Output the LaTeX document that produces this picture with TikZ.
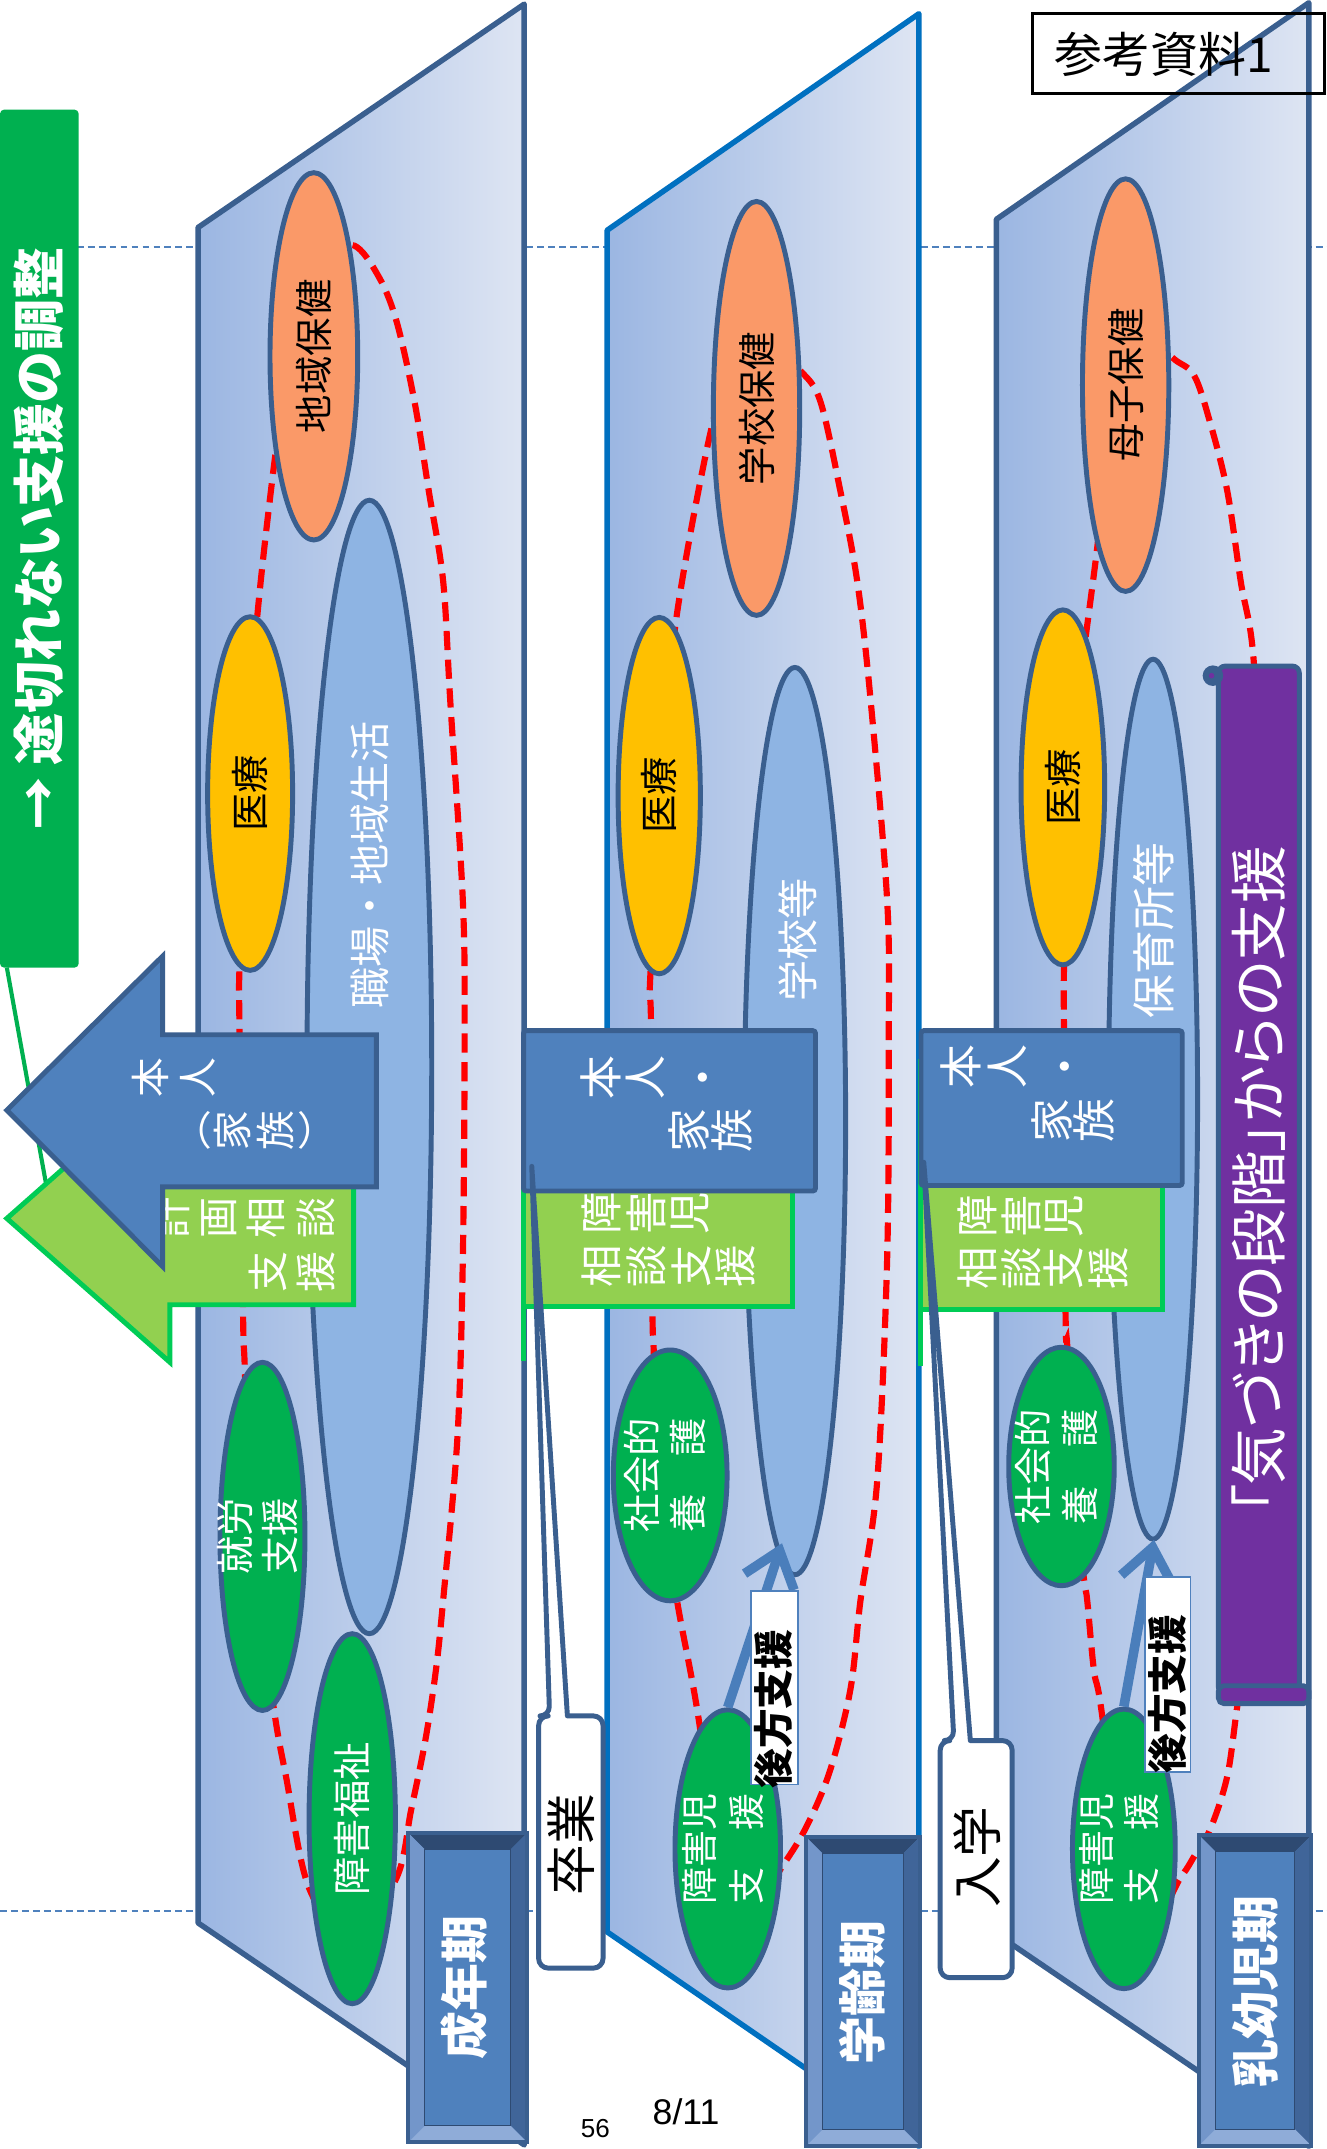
\documentclass[tikz,border=0pt]{standalone}
\usepackage{fontspec}
\usepackage{graphicx}
\setmainfont{Liberation Sans}
\newfontfamily\jp{Noto Sans CJK JP}
\newfontfamily\jpp[RawFeature=+palt]{Noto Sans CJK JP}
\usetikzlibrary{shapes.geometric,arrows.meta}
\definecolor{panelL}{RGB}{155,182,226}
\definecolor{panelR}{RGB}{222,229,243}
\definecolor{edgeD}{RGB}{58,95,143}
\definecolor{edgeM}{RGB}{0,112,192}
\definecolor{orangeE}{RGB}{250,153,104}
\definecolor{yellowE}{RGB}{255,192,0}
\definecolor{greenE}{RGB}{0,176,80}
\definecolor{blueE}{RGB}{142,180,227}
\definecolor{boxB}{RGB}{79,129,189}
\definecolor{boxB2}{RGB}{74,126,187}
\definecolor{lgreen}{RGB}{146,208,80}
\definecolor{agreen}{RGB}{0,204,85}
\definecolor{purp}{RGB}{112,48,160}
\definecolor{dashblue}{RGB}{79,129,189}
\definecolor{bvT}{RGB}{46,74,114}
\definecolor{bvL}{RGB}{115,150,202}
\definecolor{bvR}{RGB}{64,101,153}
\definecolor{bvB}{RGB}{143,172,216}
\newcommand\bevbox[4]{%
  \fill[boxB] (#1,#2) rectangle (#3,#4);
  \fill[bvT] (#1,#2) -- (#3,#2) -- (#3-12,#2+12) -- (#1+12,#2+12) -- cycle;
  \fill[bvL] (#1,#2) -- (#1+12,#2+12) -- (#1+12,#4-12) -- (#1,#4) -- cycle;
  \fill[bvR] (#3,#2) -- (#3-12,#2+12) -- (#3-12,#4-12) -- (#3,#4) -- cycle;
  \fill[bvB] (#1,#4) -- (#1+12,#4-12) -- (#3-12,#4-12) -- (#3,#4) -- cycle;
  \draw[edgeD, line width=3pt] (#1,#2) rectangle (#3,#4);
  \draw[bvT, line width=0.8pt] (#1+12,#2+12) rectangle (#3-12,#4-12);}
\begin{document}
\begin{tikzpicture}[x=1pt,y=-1pt,
  ell/.style={ellipse, draw=edgeD, line width=3.6pt, inner sep=0pt},
  etxt/.style={inner sep=0pt, font=\jp\fontsize{28}{31}\selectfont},
  vch/.style={inner sep=0pt, rotate=90, text=white, font=\jp\fontsize{31}{31}\selectfont},
  pch/.style={inner sep=0pt, text=white, font=\jpp\fontsize{29}{29}\selectfont},
  rlab/.style={inner sep=0pt, rotate=90, font=\jp\fontsize{30}{30}\selectfont},
  panel/.style={line width=4pt, line join=round, left color=panelL, right color=panelR},
  reddash/.style={draw=red, line width=4.5pt, dash pattern=on 14pt off 7pt},
  bbox/.style={draw=edgeD, fill=boxB, line width=3.6pt, rounded corners=2pt, inner sep=0pt},
  gbox/.style={draw=agreen, fill=lgreen, line width=3.6pt, inner sep=0pt},
  calloutbox/.style={draw=edgeD, fill=white, line width=3.6pt, line join=round},
  perlab/.style={inner sep=0pt, rotate=90, text=white, font=\jp\bfseries\fontsize{35}{35}\selectfont},
  backarr/.style={draw=boxB2, line width=7pt, -{Straight Barb[length=24pt,width=38pt]}},
  hlab/.style={draw=boxB, fill=white, line width=1.4pt, inner sep=0pt},
  dashline/.style={draw=dashblue, line width=1.4pt, dash pattern=on 5pt off 3pt}
]
\useasboundingbox (0,0) rectangle (968,1568);
\fill[white] (0,0) rectangle (968,1568);

% dashed guide lines
\draw[dashline] (0,180) -- (968,180);
\draw[dashline] (0,1394) -- (968,1394);

% connector from title bar
\coordinate (gl1) at (5,706);
\coordinate (gl2) at (34,866);
\draw[greenE, line width=3pt] (gl1) -- (gl2);

% title bar
\node[fill=greenE, rounded corners=3pt, minimum width=57.4pt, minimum height=626pt, inner sep=0pt,
      text=white, font=\jpp\bfseries\fontsize{38}{38}\selectfont] (title) at (28.7,393)
      {\rotatebox{90}{→ 途切れない支援の調整}};

% panels
\draw[panel, draw=edgeD] (144.5,166) -- (382.5,3) -- (382.5,1565) -- (144.5,1403) -- cycle;
\draw[panel, draw=edgeM] (443,168) -- (670.5,10) -- (670.5,1566) -- (443,1409.6) -- cycle;
\draw[panel, draw=edgeD] (727,160) -- (955,2) -- (955,1566) -- (727,1411) -- cycle;

% red dashed loops
\draw[reddash] plot[smooth cycle, tension=0.55] coordinates {
 (235,188) (258,179) (276.4,202) (289.4,234.7) (302.5,293.4) (312.9,358.5) (323.3,423.7)
 (328.5,511) (337.7,657) (339,755) (337.7,918) (333.8,1048) (323.3,1168) (318,1219)
 (310.3,1270) (299.9,1321) (289.4,1370) (257,1415) (225.5,1377.6) (208.6,1295.8)
 (199.5,1244.7) (183,1121) (178.6,997.6) (177.3,957) (174.7,748) (174.7,706) (178,580)
 (187.7,449.8) (200.8,332.5) (212,255)};
\draw[reddash] plot[smooth cycle, tension=0.55] coordinates {
 (560,250) (584,270.5) (598.6,293) (613.2,358.5) (625.4,423.7) (635,508.5) (647.3,657)
 (648.5,755) (647.3,918) (640,1081) (627.8,1168) (620.6,1232) (606,1290.7) (589,1331.6)
 (570.6,1362) (530,1420) (511,1262.6) (494,1168) (480,1076) (477,986) (476,950) (475,750)
 (474.5,712) (483,580) (492.8,456) (518.3,316) (535,270)};
\draw[reddash] plot[smooth cycle, tension=0.55] coordinates {
 (830,235) (855.3,260.8) (871.2,273.8) (883.3,309.6) (895.5,358.5) (905.2,423.7) (915,485.6)
 (921,650) (922,850) (918,1050) (910,1200) (902.8,1244.7) (895.5,1295.8) (883.3,1334)
 (871.2,1354.6) (861.4,1370) (825,1420) (804.2,1252) (798.2,1219) (793.3,1168) (790.9,1152)
 (780,1070) (778.7,983) (777.5,960) (776.3,751.5) (776.3,705.9) (778,575) (792,466)
 (800.6,399.3) (812,300)};

% ===== left panel: adult period =====
\node[ell, fill=blueE, minimum width=91pt, minimum height=827pt] (shokuba) at (269.5,778.5) {};
\node[rlab, text=white] (shokubaT) at (270,631) {職場・地域生活};
\node[ell, fill=orangeE, minimum width=64pt, minimum height=268pt] (chiiki) at (229,260) {};
\node[ell, fill=yellowE, minimum width=62pt, minimum height=258pt] (iryo1) at (182.5,579) {};
\node[ell, fill=greenE, minimum width=62pt, minimum height=254pt] (shuro) at (191.5,1121) {};
\node[ell, fill=greenE, minimum width=63pt, minimum height=270pt] (fukushi) at (257,1327) {};
\node[etxt] (chiikiT) at (chiiki) {\rotatebox{90}{地域保健}};
\node[etxt] (iryo1T) at (iryo1) {\rotatebox{90}{医療}};
\node[etxt, text=white] (shuroT) at (shuro) {\rotatebox{90}{\begin{tabular}{@{}c@{}}就労\\支援\end{tabular}}};
\node[etxt, text=white] (fukushiT) at (fukushi) {\rotatebox{90}{障害福祉}};

% arrows (planning consultation / person-family)
\draw[draw=agreen, fill=lgreen, line width=3.6pt, line join=miter]
  (5,889) -- (124,784) -- (124,826) -- (258,826) -- (258,952) -- (124,952) -- (124,994) -- cycle;
\foreach \c/\x/\y [count=\i] in {計/124.7/889, 画/159.7/889, 相/194.3/889, 談/230.8/889, 支/195.6/928.4, 援/230.8/928.4}
  \node[vch, font=\jp\fontsize{30}{30}\selectfont] (kk\i) at (\x,\y) {\c};
\draw[draw=edgeD, fill=boxB, line width=3.6pt, line join=miter]
  (5,810) -- (118.6,697.7) -- (118.6,755) -- (274.6,755) -- (274.6,866) -- (118.6,866) -- (118.6,924) -- cycle;
\foreach \c/\x/\y [count=\i] in {本/109.5/786, 人/144.7/786, 家/169.5/825, 族/201/825}
  \node[vch, font=\jp\fontsize{29}{29}\selectfont] (ka\i) at (\x,\y) {\c};
\node[pch] (kap1) at (146.6,825) {（};
\node[pch] (kap2) at (225.5,825) {）};

% ===== middle panel: school age =====
\node[ell, fill=blueE, minimum width=74pt, minimum height=662pt] (gakkoto) at (580,818) {};
\node[rlab, text=white] (gakkotoT) at (582,686) {学校等};
\node[ell, fill=orangeE, minimum width=63pt, minimum height=302pt] (gakko) at (552,298) {};
\node[ell, fill=yellowE, minimum width=60pt, minimum height=260pt] (iryo2) at (481,580.5) {};
\node[ell, fill=greenE, minimum width=83pt, minimum height=183pt] (shakai2) at (489,1076.5) {};
\node[ell, fill=greenE, minimum width=77pt, minimum height=203pt] (shien2) at (531,1349) {};
\node[etxt] (gakkoT) at (gakko) {\rotatebox{90}{学校保健}};
\node[etxt] (iryo2T) at (iryo2) {\rotatebox{90}{医療}};
\node[etxt, text=white, font=\jp\fontsize{28}{34}\selectfont] (shakai2T) at (shakai2)
  {\rotatebox{90}{\begin{tabular}{@{}c@{}}社会的\\養　護\end{tabular}}};
\node[etxt, text=white, font=\jp\fontsize{27}{34}\selectfont] (shien2T) at (shien2)
  {\rotatebox{90}{\begin{tabular}{@{}c@{}}障害児\\支　援\end{tabular}}};

% ===== right panel: infancy =====
\node[ell, fill=blueE, minimum width=65pt, minimum height=642pt] (hoiku) at (841.3,802) {};
\node[rlab, text=white, font=\jp\fontsize{32}{32}\selectfont] (hoikuT) at (842,679) {保育所等};
\node[ell, fill=orangeE, minimum width=63pt, minimum height=301pt] (boshi) at (821.3,281) {};
\node[ell, fill=yellowE, minimum width=61pt, minimum height=259pt] (iryo3) at (775.5,574.5) {};
\node[ell, fill=greenE, minimum width=77pt, minimum height=174pt] (shakai3) at (774.5,1070) {};
\node[ell, fill=greenE, minimum width=75pt, minimum height=204pt] (shien3) at (820,1349) {};
\node[etxt] (boshiT) at (boshi) {\rotatebox{90}{母子保健}};
\node[etxt] (iryo3T) at (iryo3) {\rotatebox{90}{医療}};
\node[etxt, text=white, font=\jp\fontsize{28}{34}\selectfont] (shakai3T) at (shakai3)
  {\rotatebox{90}{\begin{tabular}{@{}c@{}}社会的\\養　護\end{tabular}}};
\node[etxt, text=white, font=\jp\fontsize{27}{33}\selectfont] (shien3T) at (shien3)
  {\rotatebox{90}{\begin{tabular}{@{}c@{}}障害児\\支　援\end{tabular}}};

% green consultation boxes and blue person boxes
\draw[agreen, line width=4pt] (382,773) -- (382,993);
\draw[agreen, line width=4pt] (671.5,773) -- (671.5,997);
\node[gbox, minimum width=196pt, minimum height=153.6pt] (sodan2) at (480,876.8) {};
\node[gbox, minimum width=176.5pt, minimum height=155.2pt] (sodan3) at (760.25,877.6) {};
\foreach \c/\x/\y [count=\i] in {障/438.6/885, 害/471.5/885, 児/503.7/885, 相/438.6/924, 談/471.5/924, 支/504.4/924, 援/536.6/924}
  \node[vch] (sm\i) at (\x,\y) {\c};
\foreach \c/\x/\y [count=\i] in {障/713/887.6, 害/745.2/887.6, 児/776.2/887.6, 相/713/925, 談/745.2/925, 支/776.2/925, 援/809/925}
  \node[vch] (sr\i) at (\x,\y) {\c};
\node[bbox, minimum width=213pt, minimum height=117pt] (honnin2) at (488.5,810.5) {};
\node[bbox, minimum width=190.6pt, minimum height=113pt] (honnin3) at (767.3,808.5) {};
\foreach \c/\x/\y [count=\i] in {本/438.6/786.5, 人/471/786.5, ・/517/786.5, 家/502.5/824.8, 族/533.7/824.8}
  \node[vch, font=\jp\fontsize{32}{32}\selectfont] (hm\i) at (\x,\y) {\c};
\foreach \c/\x/\y [count=\i] in {本/701.4/778.4, 人/735/778.4, ・/781/778.4, 家/767.7/817.5, 族/798.2/817.5}
  \node[vch, font=\jp\fontsize{32}{32}\selectfont] (hr\i) at (\x,\y) {\c};

% callouts: graduation / school entry
\draw[calloutbox] (388,851) -- (414,1252) [rounded corners=7pt] -- (440,1252) -- (440,1436) -- (393,1436) -- (393,1252) -- (401,1252) [sharp corners] -- cycle;
\node[rlab, font=\jp\fontsize{37}{37}\selectfont] (sotsugyo) at (416.7,1346) {卒業};
\draw[calloutbox] (674,848) -- (708,1270) [rounded corners=7pt] -- (738.5,1270) -- (738.5,1443) -- (686,1443) -- (686,1270) -- (696,1270) [sharp corners] -- cycle;
\node[rlab, font=\jp\fontsize{37}{37}\selectfont] (nyugaku) at (712.7,1355) {入学};

% back-up support arrows and labels
\coordinate (ba2) at (570.6,1126);
\coordinate (ba3) at (842,1123.5);
\draw[backarr] (shien2.north) -- (ba2);
\draw[backarr] (shien3.north) -- (ba3);
\node[hlab, minimum width=34pt, minimum height=141.4pt] (kohoB2) at (565,1231.3) {};
\node[rlab, font=\jp\bfseries\fontsize{29}{29}\selectfont] (koho2) at (564.6,1247) {後方支援};
\node[hlab, minimum width=33.3pt, minimum height=142.2pt] (kohoB3) at (852,1221.9) {};
\node[rlab, font=\jp\bfseries\fontsize{29}{29}\selectfont] (koho3) at (852,1236) {後方支援};

% scroll
\node[draw=edgeD, fill=purp, line width=3.6pt, rounded corners=5pt, minimum width=59pt, minimum height=750pt, inner sep=0pt,
      text=white, font=\jpp\fontsize{42}{42}\selectfont] (scroll) at (918.5,861) {\rotatebox{90}{「気づきの段階」からの支援}};
\fill[edgeD] (885,493) circle (7.5);
\fill[purp] (884,493) circle (2);
\draw[draw=edgeD, fill=purp, line width=3.6pt, rounded corners=4pt] (889,1230) rectangle (955,1243);

% period boxes
\bevbox{298}{1337.5}{384.6}{1563}
\node[perlab] (seinen) at (339,1450) {成年期};
\bevbox{588.4}{1340.5}{671}{1565.5}
\node[perlab] (gakurei) at (629,1454) {学齢期};
\bevbox{874.8}{1339}{956.8}{1565.5}
\node[perlab] (nyuyo) at (916,1453) {乳幼児期};

% reference tag and page numbers
\node[draw=black, line width=2.2pt, minimum width=213pt, minimum height=58.6pt, inner sep=0pt] (refbox) at (860,39.1) {};
\node[inner sep=0pt, font=\jp\fontsize{35}{35}\selectfont] (reftext) at (849,40) {参考資料1};
\node[inner sep=0pt, font=\fontsize{19}{19}\selectfont] (pg1) at (434.4,1552.7) {56};
\node[inner sep=0pt, font=\fontsize{26}{26}\selectfont] (pg2) at (500.6,1541) {8/11};
\end{tikzpicture}
\end{document}
